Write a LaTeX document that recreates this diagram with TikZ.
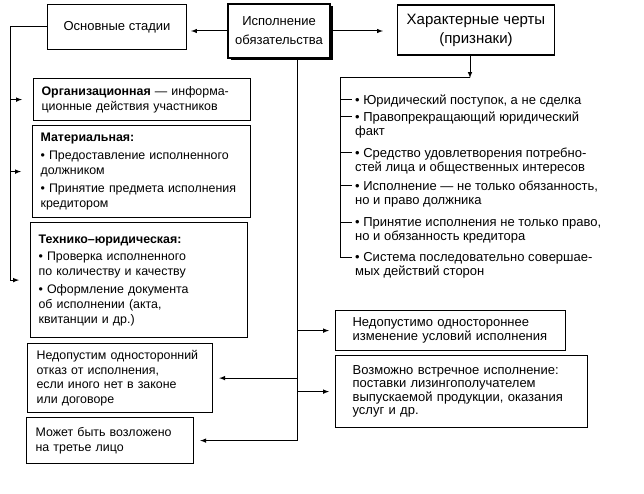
\documentclass[tikz,border=0pt]{standalone}
\usepackage{fontspec}
\setmainfont{Liberation Sans}
\usetikzlibrary{arrows,shadows}

\begin{document}
\begin{tikzpicture}[x=1pt,y=-1pt]
	  \tikzstyle{every node} = [font=\fontsize{12.4}{14.8}\selectfont]
	  \tikzstyle{head} = [draw, line width=1.2pt, align=center, font=\fontsize{13}{19}\selectfont]
	  \tikzstyle{box} = [draw, line width=1.2pt, anchor=north west, align=left, inner ysep=0pt]
	  \tikzstyle{rbox} = [box, font=\fontsize{13}{13.5}\selectfont, inner xsep=17]
	  \tikzstyle{item} = [anchor=north west, align=left, inner sep=0pt, font=\fontsize{13}{14}\selectfont]
	  \tikzstyle{link} = [line width=1pt]
	  \tikzstyle{arr} = [line width=1pt, -latex]
	  \useasboundingbox (0,0) rectangle (644,494);
	  \node (exec)[head, minimum width=102, minimum height=54, drop shadow={shadow xshift=2.5pt, shadow yshift=-2.5pt, fill=black, opacity=1}, fill=white] at (279,31) {Исполнение\\обязательства};
	  \node (stage)[head, minimum width=139, minimum height=45] at (117,27) {Основные стадии};
	  \node (trait)[head, minimum width=157, minimum height=50, font=\fontsize{15}{19}\selectfont] at (476,30) {Характерные черты\\(признаки)};
	  % stages
	  \node (org)[box, text width=201, minimum height=42, inner xsep=8] at (33,78) {\textbf{Организационная} — информа-\\ционные действия участников};
	  \node (mat)[box, text width=202, minimum height=92, inner xsep=8] at (32,125) {\textbf{Материальная:}\\[3pt]• Предоставление исполненного\\должником\\[3pt]• Принятие предмета исполнения\\кредитором};
	  \node (tech)[box, text width=201, minimum height=115, inner xsep=8] at (30,222) {\textbf{Технико–юридическая:}\\[3pt]• Проверка исполненного\\по количеству и качеству\\[3pt]• Оформление документа\\об исполнении (акта,\\квитанции и др.)};
	  \node (refuse)[box, text width=167, minimum height=69, inner xsep=9] at (27,343) {Недопустим односторонний\\отказ от исполнения,\\если иного нет в законе\\или договоре};
	  \node (third)[box, text width=149, minimum height=46, inner xsep=9] at (26,417) {Может быть возложено\\на третье лицо};
	  \node (change)[rbox, text width=196, minimum height=40] at (335,310) {Недопустимо одностороннее\\изменение условий исполнения};
	  \node (counter)[rbox, text width=218, minimum height=72] at (335,355) {Возможно встречное исполнение:\\поставки лизингополучателем\\выпускаемой продукции, оказания\\услуг и др.};
	  % traits
	  \node (i1)[item] at (355,95) {• Юридический поступок, а не сделка};
	  \node (i2)[item] at (355,112) {• Правопрекращающий юридический\\факт};
	  \node (i3)[item] at (355,148) {• Средство удовлетворения потребно-\\стей лица и общественных интересов};
	  \node (i4)[item] at (355,181) {• Исполнение — не только обязанность,\\но и право должника};
	  \node (i5)[item] at (355,217) {• Принятие исполнения не только право,\\но и обязанность кредитора};
	  \node (i6)[item] at (355,252) {• Система последовательно совершае-\\мых действий сторон};
	  \draw[arr, shorten >=4pt] (exec.west) -- (exec.west -| stage.east);
	  \draw[arr, shorten >=14pt] (exec.east) -- (exec.east -| trait.west);
	  \coordinate (lsp) at (10,0);
	  \draw[link] (stage.west) -| (lsp |- tech.west);
	  \foreach \n in {org,mat,tech}
	    \draw[arr, shorten >=11pt] (lsp |- \n.west) -- (\n.west);
	  \coordinate (rsp) at (297,0);
	  \draw[link] (rsp |- exec.south) -- (rsp |- third.east);
	  \foreach \n in {refuse,third}
	    \draw[arr, shorten >=6pt] (rsp |- \n.east) -- (\n.east);
	  \foreach \n in {change,counter}
	    \draw[arr, shorten >=6pt] (rsp |- \n.west) -- (\n.west);
	  \coordinate (tsp) at (340,78);
	  \coordinate (tdown) at ([xshift=-6pt]trait.south);
	  \draw[arr] (tdown) -- (tdown |- tsp);
	  \foreach \k in {1,...,6}
	    \coordinate (t\k) at ([xshift=-3pt, yshift=-5pt]i\k.north west);
	  \draw[link] (tdown |- tsp) -- (tsp) -- (tsp |- t6);
	  \foreach \k in {1,...,6}
	    \draw[link] (tsp |- t\k) -- (t\k);
\end{tikzpicture}
\end{document}
